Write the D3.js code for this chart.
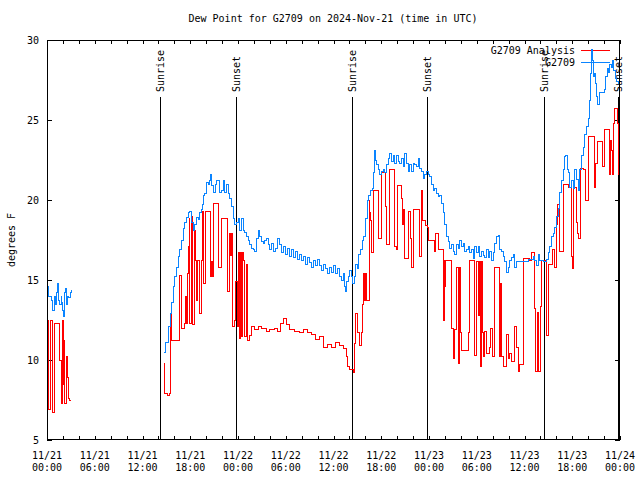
<!DOCTYPE html>
<html><head><meta charset="utf-8">
<script src="https://cdn.jsdelivr.net/npm/d3@7"></script>
<style>
body{margin:0;background:#fff;}
svg{display:block;font-family:"DejaVu Sans Mono",monospace;font-size:10px;}
line,path,rect{shape-rendering:crispEdges;}
</style></head>
<body><svg id="c" width="640" height="480"></svg>
<script>
// ---- data (hours since 2024-11-21 00:00 UTC) ----
const obsHours = [0,0.16,0.29,0.59,0.72,0.88,1.04,1.22,1.29,1.42,1.63,1.76,1.88,1.97,2.05,2.14,2.22,2.30,2.39,2.55,2.73,2.89,3.05,
 3.1,
 14.74,14.95,15.24,15.54,15.67,15.87,16.08,16.29,16.49,16.71,16.92,17.12,17.34,17.55,17.75,17.96,18.18,18.38,18.59,18.81,19.01,19.22,19.43,19.56,19.72,19.85,20.06,20.26,20.48,20.6,20.69,20.89,21.11,21.32,21.52,21.73,21.95,22.15,22.36,22.58,22.78,22.99,23.2,23.4,23.62,23.83,24.03,24.25,24.46,24.66,24.87,25.09,25.29,25.5,25.72,25.92,26.13,26.34,26.55,26.76,26.97,27.17,27.39,27.6,27.8,
 28.01,28.27,28.52,28.77,29.02,29.27,29.52,29.77,30.03,30.28,30.53,30.78,31.03,31.28,31.53,31.78,32.04,32.29,32.54,32.79,33.04,33.29,33.54,33.79,34.05,34.3,34.55,34.8,35.05,35.3,35.55,35.8,36.06,36.31,36.56,36.81,37.02,37.22,37.44,37.56,37.69,37.85,38.07,38.23,38.4,38.6,38.82,39.0,39.2,39.41,39.61,39.82,40.04,40.24,40.45,40.67,40.87,41.0,41.12,41.24,41.42,41.62,41.83,42.05,42.25,42.46,42.68,42.88,43.09,43.3,43.5,43.72,43.93,44.13,44.35,44.56,44.76,44.97,45.19,45.39,45.6,45.82,46.02,46.23,46.44,46.65,46.86,47.07,47.27,47.49,47.7,47.9,48.12,48.33,48.53,48.74,48.96,49.16,49.37,49.59,49.79,50.0,50.21,50.41,50.63,50.84,51.04,51.26,51.47,51.67,51.88,52.1,52.3,52.51,52.73,52.93,53.14,53.36,53.56,53.77,53.98,54.18,54.4,54.61,54.81,55.03,55.24,55.44,55.65,55.87,56.07,56.28,56.49,56.7,56.91,57.12,57.32,57.54,57.75,57.95,58.17,58.38,58.58,58.79,59.01,59.42,60.26,60.46,60.68,61.09,61.31,61.52,61.72,61.93,62.35,62.78,62.98,63.19,63.4,63.61,63.82,64.03,64.23,64.45,64.66,64.86,65.08,65.2,65.37,65.49,65.7,65.92,66.12,66.33,66.55,66.75,66.96,67.17,67.38,67.59,67.8,68.0,68.13,68.25,68.38,68.5,68.63,68.78,68.97,69.06,69.18,69.47,69.89,70.1,70.23,70.39,70.57,70.73,70.9,71.07,71.23,71.4,71.57,71.77,71.98];
const obsValues = [14.6,14.0,14.0,13.75,13.1,13.95,13.5,14.2,14.8,13.75,13.5,14.0,13.6,13.1,12.7,13.4,14.2,14.5,13.5,14.0,13.9,14.2,14.4,
 null,
 10.5,11.1,12.1,12.9,13.6,14.6,15.2,15.8,16.5,16.9,17.5,18.25,18.6,18.9,19.2,19.3,18.6,18.1,18.5,18.9,18.8,19.2,19.4,19.7,20.3,20.4,21.1,21.0,21.25,21.6,20.9,20.5,21.0,21.25,21.25,20.45,20.6,21.25,20.45,21.0,20.4,20.1,19.6,18.85,18.5,18.6,18.85,18.1,18.85,18.1,18.0,17.7,17.5,17.2,17.0,16.9,16.8,17.6,18.1,17.7,17.4,17.3,17.5,17.6,17.2,
 16.9,17.3,16.8,17.0,17.6,17.2,16.7,17.1,16.6,17.0,16.5,16.9,16.4,16.8,16.3,16.6,16.2,16.5,16.0,16.4,16.1,15.8,16.2,15.9,16.3,15.9,15.6,16.0,15.7,15.4,15.8,15.5,15.9,15.4,15.7,15.2,15.0,15.4,14.6,14.3,14.9,15.2,15.6,15.2,14.8,15.2,16.0,15.7,16.6,16.9,17.5,17.7,18.85,20.0,20.3,20.6,20.7,21.7,23.1,22.5,22.2,21.9,21.6,21.8,21.9,21.7,22.2,22.6,22.9,22.4,22.8,22.3,22.8,22.4,22.3,22.6,22.1,22.9,22.3,21.8,22.2,21.8,22.3,22.2,22.1,22.6,22.0,21.8,21.35,21.6,21.8,21.6,21.45,21.0,20.6,20.7,20.4,20.2,20.3,19.8,19.2,18.5,17.7,17.4,17.0,17.2,16.8,16.6,17.2,17.0,17.5,17.1,17.3,16.8,16.9,17.1,16.7,16.9,16.35,17.1,16.7,17.1,16.45,16.8,16.55,16.4,16.9,16.4,16.8,16.25,16.7,17.3,17.7,17.8,16.9,16.8,16.45,16.15,15.5,15.8,16.25,16.4,16.6,15.8,16.15,16.15,16.15,16.3,16.3,16.45,16.2,15.9,16.6,16.2,16.15,16.3,16.7,17.1,17.7,17.9,18.3,19.0,19.5,20.5,21.25,21.9,22.7,22.8,21.9,21.7,20.8,21.2,20.7,21.9,21.3,20.6,21.9,22.8,23.3,24.1,24.6,25.1,26.25,27.9,29.4,28.7,27.7,27.9,27.3,26.5,26.0,26.7,26.7,26.9,27.7,28.2,28.0,28.5,28.3,28.75,28.1,27.6,27.4,27.3,27.3];

const anaHours = [0,0.16,0.25,0.38,0.5,0.63,0.75,0.92,1.55,1.85,1.97,2.1,2.17,2.26,2.39,2.55,2.68,2.85,3.05,
 3.1,
 14.64,14.82,15.08,15.33,15.49,15.67,16.08,16.49,16.62,16.92,17.34,17.46,17.55,17.63,17.75,17.88,17.96,18.18,18.3,18.5,18.63,18.81,18.93,19.18,19.43,19.56,19.72,19.97,20.52,20.69,20.79,20.89,21.61,21.98,22.65,22.99,23.12,23.2,23.33,23.58,23.74,23.91,24.03,24.16,24.28,24.41,24.53,24.66,24.79,25.09,25.16,25.5,25.72,26.13,26.55,26.97,27.6,
 28.01,28.64,29.02,29.4,29.77,30.15,30.53,31.16,31.78,32.29,32.79,33.29,33.79,34.3,34.8,35.3,35.8,36.31,36.81,37.22,37.65,37.73,38.07,38.49,38.61,38.74,39.04,39.24,39.54,39.67,39.74,39.86,40.08,40.2,40.49,40.58,40.7,40.83,40.99,41.62,42.09,42.59,42.68,43.01,43.72,43.93,44.01,44.51,44.64,44.85,44.97,45.39,45.69,45.82,46.11,46.77,47.07,47.2,47.36,47.61,47.78,47.9,48.74,48.83,49.16,49.25,49.79,49.91,50.0,50.09,50.84,51.04,51.26,51.47,51.67,51.8,51.97,52.1,52.93,53.14,53.77,53.98,54.18,54.31,54.49,54.61,54.74,54.9,55.03,55.24,55.65,55.78,55.99,56.28,56.82,57.0,57.16,57.32,57.75,57.95,58.17,58.38,58.79,59.01,59.21,59.42,59.84,60.68,60.89,61.31,61.43,61.6,61.72,62.02,62.15,62.78,62.98,63.53,63.82,64.03,64.11,64.45,64.86,65.49,65.92,66.04,66.17,66.55,66.67,66.83,67.09,67.46,67.63,68.0,68.76,68.93,69.22,69.81,70.1,70.73,70.81,70.94,71.01,71.14,71.36,71.65,71.77,71.98];
const anaValues = [12.5,9.5,6.9,9.7,12.5,9.7,6.7,12.3,10.0,7.3,12.5,8.5,11.2,7.3,10.2,8.9,7.6,7.5,7.5,
 null,
 9.8,7.9,7.8,7.9,12.9,11.25,11.2,11.2,15.3,12.0,12.3,14.0,12.3,15.4,17.1,18.85,12.3,19.0,12.2,18.1,16.25,13.75,16.25,12.9,16.25,19.3,14.8,19.3,15.2,16.15,15.2,19.8,15.8,18.85,14.3,17.9,16.55,17.9,12.1,12.5,14.9,12.1,16.7,11.35,16.7,11.5,16.7,16.25,11.45,16.0,11.25,11.55,12.1,11.9,12.1,12.0,11.8,
 11.9,12.0,11.8,12.3,12.6,12.2,11.9,11.8,11.7,11.9,11.7,11.6,11.3,11.5,10.8,11.0,10.8,11.1,10.9,10.7,10.2,9.6,9.4,9.2,11.05,12.9,11.7,10.9,11.7,13.5,15.4,13.75,15.4,13.75,20.0,19.2,18.75,16.7,20.6,17.6,21.7,19.6,17.2,21.9,17.1,16.9,20.9,20.1,18.5,19.4,16.35,19.3,17.6,15.8,19.4,16.45,20.6,18.75,18.7,18.4,18.3,17.5,16.8,17.9,17.3,16.9,12.5,16.25,14.6,16.25,12.0,10.1,11.9,15.8,9.8,15.8,11.7,10.6,11.7,16.25,10.3,16.15,12.8,16.15,9.6,16.15,11.7,10.2,11.8,10.4,10.8,12.0,10.2,15.8,10.2,14.8,10.2,9.6,11.6,10.1,10.4,9.9,12.1,10.8,9.3,9.7,16.35,16.25,16.7,13.2,9.3,13.0,9.3,13.35,16.25,11.55,16.0,16.9,15.8,18.5,19.7,16.8,21.0,20.8,16.45,15.7,20.8,18.6,17.9,17.6,22.0,21.9,20.0,24.0,20.8,22.3,23.65,22.1,24.4,21.6,23.75,23.1,21.6,24.8,25.7,24.8,21.6,21.6];

const sunHours = [14.25, 23.7, 38.3, 47.7, 62.4, 71.7];
const sunLabels = ["Sunrise","Sunset","Sunrise","Sunset","Sunrise","Sunset"];
const yTicks = [5,10,15,20,25,30];
const titleText = "Dew Point for G2709 on 2024-Nov-21 (time in UTC)";
const seriesNames = ["G2709 Analysis","G2709"];
const seriesColors = ["#ff0000","#0a84ff"];

// ---- chart ----
const svg = d3.select("#c");
const L=47, R=620, T=40, B=440;
const t0 = Date.UTC(2024,10,21,0,0);
const toDate = h => new Date(t0 + h*3600e3);
const x = d3.scaleUtc().domain([toDate(0), toDate(72)]).range([L,R]);
const y = d3.scaleLinear().domain([5,30]).range([B,T]);

svg.append("text").attr("x",333).attr("y",22).attr("text-anchor","middle").text(titleText);

// axes with inward ticks
const ticks2h = d3.range(0,73,2).map(toDate);
svg.append("g").attr("transform",`translate(0,${B})`)
  .call(d3.axisBottom(x).tickValues(ticks2h).tickSize(-4).tickFormat(""))
  .call(g=>g.select(".domain").remove());
svg.append("g").attr("transform",`translate(0,${T})`)
  .call(d3.axisTop(x).tickValues(ticks2h).tickSize(-4).tickFormat(""))
  .call(g=>g.select(".domain").remove());
svg.append("g").attr("transform",`translate(${L},0)`)
  .call(d3.axisLeft(y).tickValues(yTicks).tickSize(-5).tickPadding(8))
  .call(g=>g.select(".domain").remove())
  .call(g=>g.selectAll("text").attr("font-family","DejaVu Sans Mono").attr("font-size",10).attr("fill","#000"));
svg.append("g").attr("transform",`translate(${R},0)`)
  .call(d3.axisRight(y).tickValues(yTicks).tickSize(-5).tickFormat(""))
  .call(g=>g.select(".domain").remove());
svg.selectAll(".tick line").attr("stroke","#000");

// x labels every 6h
const fmtD = d3.utcFormat("%m/%d"), fmtT = d3.utcFormat("%H:%M");
const lab = svg.append("g");
d3.range(0,73,6).map(toDate).forEach(d=>{
  const t = lab.append("text").attr("text-anchor","middle").attr("x",x(d));
  t.append("tspan").attr("x",x(d)).attr("y",459).text(fmtD(d));
  t.append("tspan").attr("x",x(d)).attr("y",471).text(fmtT(d));
});

svg.append("text").attr("transform","translate(15,240) rotate(-90)").attr("text-anchor","middle").text("degrees F");

// legend
seriesNames.forEach((n,i)=>{
  const yy = 50 + i*12.5;
  svg.append("text").attr("x",575).attr("y",yy+3.5).attr("text-anchor","end").text(n);
  svg.append("line").attr("x1",581).attr("x2",610).attr("y1",yy).attr("y2",yy)
    .attr("stroke",seriesColors[i]).attr("stroke-width",1);
});

// sunrise/sunset
sunHours.forEach((h,i)=>{
  const xx = Math.round(x(toDate(h)))+0.5;
  svg.append("line").attr("x1",xx).attr("x2",xx).attr("y1",97).attr("y2",B).attr("stroke","#000");
  svg.append("text").attr("transform",`translate(${xx+3.5},92) rotate(-90)`).attr("text-anchor","start").text(sunLabels[i]);
});

// data lines
const line = d3.line().defined(d=>d[1]!==null).curve(d3.curveStepAfter)
  .x(d=>x(toDate(d[0]))).y(d=>y(d[1]));
const ana = anaHours.map((h,i)=>[h,anaValues[i]]);
const obs = obsHours.map((h,i)=>[h,obsValues[i]]);
svg.append("path").datum(ana).attr("d",line).attr("fill","none").attr("stroke",seriesColors[0]).attr("stroke-width",1);
svg.append("path").datum(obs).attr("d",line).attr("fill","none").attr("stroke",seriesColors[1]).attr("stroke-width",1);

// frame
svg.append("rect").attr("x",L+0.5).attr("y",T+0.5).attr("width",R-L-1).attr("height",B-T-1)
  .attr("fill","none").attr("stroke","#000");
</script></body></html>
